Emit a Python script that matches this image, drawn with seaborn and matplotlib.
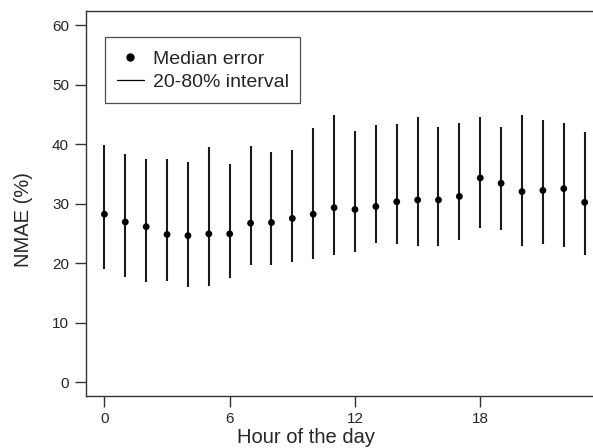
import matplotlib
matplotlib.use("Agg")
import matplotlib.pyplot as plt
import pandas as pd
import seaborn as sns
from matplotlib.lines import Line2D

hours = [0, 1, 2, 3, 4, 5, 6, 7, 8, 9, 10, 11,
         12, 13, 14, 15, 16, 17, 18, 19, 20, 21, 22, 23]
median_err = [28.2, 26.9, 26.1, 24.8, 24.6, 24.9, 24.9, 26.7, 26.8, 27.5, 28.2, 29.3,
              29.0, 29.5, 30.3, 30.6, 30.6, 31.2, 34.3, 33.4, 32.0, 32.2, 32.5, 30.2]
p20 = [19.0, 17.7, 16.8, 17.0, 16.0, 16.2, 17.5, 19.6, 19.7, 20.2, 20.7, 21.3,
       21.8, 23.3, 23.2, 22.9, 22.9, 23.8, 25.9, 25.6, 22.9, 23.2, 22.7, 21.3]
p80 = [39.9, 38.3, 37.5, 37.5, 37.0, 39.5, 36.7, 39.6, 38.7, 39.0, 42.7, 44.9,
       42.2, 43.2, 43.4, 44.6, 42.9, 43.6, 44.6, 42.9, 44.8, 44.0, 43.6, 42.0]
x_ticks = [0, 6, 12, 18]
y_ticks = [0, 10, 20, 30, 40, 50, 60]

df = pd.DataFrame({"hour": hours, "median": median_err, "low": p20, "high": p80})

sns.set_style("ticks")
plt.rcParams["font.family"] = ["Liberation Sans", "DejaVu Sans"]

fig = plt.figure(figsize=(5.93, 4.48), dpi=100)
ax = fig.add_axes([0.1444, 0.1167, 0.8556, 0.8587])

ax.vlines(df["hour"], df["low"], df["high"], color="#1a1a1a", linewidth=1.5)
sns.scatterplot(data=df, x="hour", y="median", color="black", s=24,
                edgecolor="none", ax=ax, zorder=3)

ax.set_xlim(-0.9, 23.4)
ax.set_ylim(-2.3, 62.35)
ax.set_xticks(x_ticks)
ax.set_yticks(y_ticks)
ax.tick_params(axis="both", direction="out", length=8, width=1, color="#333333",
               labelsize=11, pad=4)
for side in ("left", "top", "bottom"):
    ax.spines[side].set_visible(True)
    ax.spines[side].set_color("#333333")
    ax.spines[side].set_linewidth(1)
ax.spines["right"].set_visible(False)

ax.set_xlabel("Hour of the day", fontsize=14.5, labelpad=0)
ax.set_ylabel("NMAE (%)", fontsize=14.5)
ax.xaxis.set_label_coords(0.435, -0.085)
ax.yaxis.set_label_coords(-0.104, 0.459)

handles = [
    Line2D([], [], linestyle="none", marker="o", color="black", markersize=5),
    Line2D([], [], color="black", linewidth=0.9),
]
leg = ax.legend(handles, ["Median error", "20-80% interval"], loc="upper left",
                bbox_to_anchor=(0.038, 0.932), fontsize=14, frameon=True,
                fancybox=False, edgecolor="#222222", handlelength=1.4,
                handleheight=1.0, handletextpad=0.46, borderpad=0.6,
                labelspacing=0.2, borderaxespad=0)
leg.get_frame().set_linewidth(0.9)

fig.savefig("out.png", dpi=100)
